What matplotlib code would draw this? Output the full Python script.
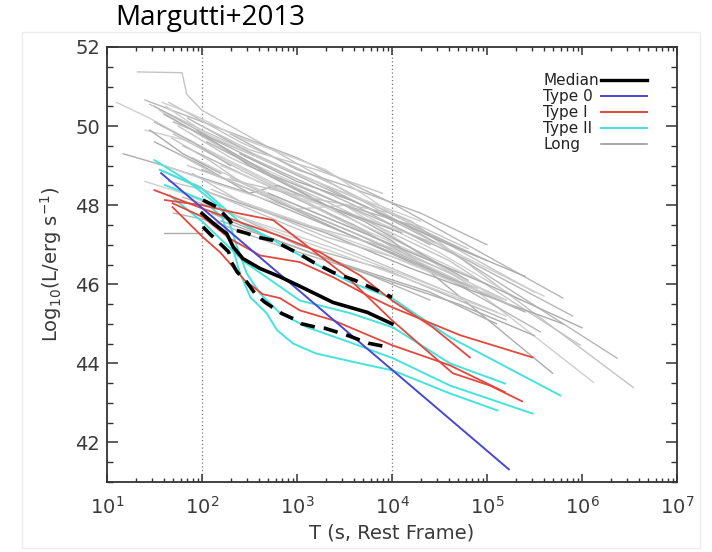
import matplotlib
matplotlib.use("Agg")
import matplotlib.pyplot as plt
from matplotlib.ticker import FixedLocator, MultipleLocator, NullFormatter, LogLocator
import numpy as np

# --- data: log10(T/s) and log10(L/erg s^-1) ---
median_logt = [2.0, 2.12, 2.26, 2.33, 2.43, 2.61, 2.82, 3.03, 3.38, 3.74, 4.0]
median_L = [47.79, 47.54, 47.28, 46.94, 46.65, 46.40, 46.19, 45.95, 45.54, 45.29, 45.0]

upper_logt = [2.01, 2.16, 2.21, 2.29, 2.35, 2.47, 2.59, 2.75, 2.95, 3.05, 3.17, 3.38, 3.61, 3.84, 4.0]
upper_L = [48.13, 47.95, 47.82, 47.62, 47.37, 47.29, 47.19, 47.11, 46.86, 46.73, 46.56, 46.30, 46.10, 45.85, 45.67]

lower_logt = [2.01, 2.08, 2.19, 2.28, 2.31, 2.37, 2.47, 2.56, 2.66, 2.84, 2.96, 3.05, 3.19, 3.29, 3.53, 3.75, 3.96]
lower_L = [47.45, 47.28, 47.03, 46.82, 46.56, 46.31, 46.06, 45.76, 45.55, 45.26, 45.13, 45.00, 44.92, 44.89, 44.71, 44.51, 44.41]

type0_logt = [1.57, 5.23]
type0_L = [48.81, 41.32]

typeI_logt = [
    [1.50, 2.0, 2.40, 2.82, 3.24, 3.66, 4.0, 4.43, 4.82],
    [1.61, 2.0, 2.33, 2.75, 3.03, 3.53, 4.0, 4.64, 5.03, 5.37],
    [1.69, 2.01, 2.19, 2.45, 2.64, 2.82, 3.03, 3.38, 4.0, 4.61, 5.19],
    [1.69, 2.01, 2.29, 2.61, 3.03, 3.38, 3.74, 4.0, 4.72, 5.48],
]
typeI_L = [
    [48.38, 47.92, 47.57, 47.22, 46.81, 46.23, 45.59, 44.91, 44.15],
    [48.13, 48.0, 47.82, 47.62, 47.11, 46.18, 45.09, 43.75, 43.44, 43.04],
    [47.95, 47.19, 46.81, 46.10, 45.75, 45.65, 45.34, 45.09, 44.46, 43.95, 43.27],
    [48.05, 47.70, 47.16, 46.73, 46.56, 46.18, 45.72, 45.42, 44.71, 44.15],
]

typeII_logt = [
    [1.50, 1.84, 2.19, 2.29, 2.37, 2.47, 2.61, 2.82, 3.11, 3.56, 4.01, 4.61, 5.48],
    [1.61, 2.01, 2.21, 2.33, 2.40, 2.51, 2.68, 2.79, 2.96, 3.20, 3.66, 4.01, 4.61, 5.11],
    [1.56, 1.98, 2.40, 2.72, 3.03, 3.56, 4.0, 4.61, 5.77],
    [1.66, 2.01, 2.45, 3.03, 3.56, 4.01, 4.61, 5.19],
]
typeII_L = [
    [49.14, 48.63, 47.95, 47.54, 46.94, 46.28, 45.77, 45.27, 44.91, 44.53, 44.13, 43.44, 42.73],
    [48.51, 48.13, 47.70, 46.86, 46.28, 45.67, 45.27, 44.84, 44.50, 44.25, 44.0, 43.82, 43.24, 42.81],
    [48.89, 48.46, 47.57, 47.16, 46.73, 46.05, 45.65, 44.66, 43.19],
    [48.25, 47.57, 46.56, 45.59, 45.27, 44.91, 44.0, 43.49],
]

long_logt = [
    [1.32, 1.79, 1.84, 2.0, 2.6, 4.5], [1.4, 3.0, 4.0, 5.8], [1.10, 1.45, 2.2, 3.5, 4.7],
    [1.17, 1.6, 2.5, 4.0, 5.4], [1.45, 2.0, 3.0, 4.2, 6.54], [1.5, 2.1, 3.2, 4.5, 6.37],
    [1.55, 2.3, 3.5, 4.8, 6.12], [1.6, 2.2, 3.0, 4.0, 5.69], [1.65, 2.4, 3.4, 4.3, 5.5],
    [1.7, 2.0, 2.6, 3.6, 4.4], [1.4, 1.9, 2.8, 3.7, 5.0], [1.5, 2.0, 2.5, 2.8, 3.7, 4.8],
    [1.75, 2.3, 3.3, 4.6, 5.98], [1.8, 2.5, 3.6, 5.56], [1.6, 2.2, 3.0, 3.5, 4.5, 5.35],
    [1.55, 2.1, 3.3, 4.2, 5.8], [1.7, 2.4, 3.8, 5.2], [1.85, 2.6, 3.5, 4.9],
    [1.9, 2.5, 3.2, 4.4, 5.3], [2.0, 2.6, 3.6, 4.8], [1.65, 2.0, 2.8, 3.8, 5.1],
    [2.05, 2.7, 3.5, 4.2, 5.0], [1.4, 1.8, 2.4, 3.4, 4.6], [1.6, 2.0],
    [2.1, 2.6, 3.3, 4.0, 4.9], [1.8, 2.3, 3.0, 3.9, 5.2], [2.2, 3.0, 3.8, 4.5, 5.6],
    [1.95, 2.5, 3.3, 4.1], [2.3, 2.9, 3.8, 4.6], [1.7, 2.1, 2.9, 3.7, 4.4],
    [2.0, 2.7, 3.4, 4.2, 5.2], [2.4, 3.0, 3.6, 4.5, 5.4], [1.85, 2.2, 3.1, 4.0, 4.8],
    [1.5, 1.9, 2.3], [2.5, 3.1, 3.9, 4.7], [2.1, 2.8, 3.5, 4.4, 5.1],
    [1.75, 2.2, 2.7], [2.6, 3.2, 3.9, 4.8, 5.9], [1.62, 2.05, 2.5, 3.3, 4.3],
    [2.2, 2.8, 3.7, 4.7, 5.5], [1.9, 2.4, 3.1, 4.0], [2.3, 3.0, 3.5, 4.3, 5.0],
    [1.58, 1.9, 2.4, 3.3, 4.0], [2.7, 3.4, 4.1, 5.0, 6.0], [2.0, 2.5, 3.2, 3.9],
    [3.0, 3.6, 4.4, 5.3], [2.4, 3.0, 3.9, 4.6, 5.2], [1.45, 1.8, 2.2], [1.68, 2.1, 2.4],
]
long_L = [
    [51.37, 51.35, 50.8, 50.4, 49.6, 47.0], [50.66, 49.2, 48.05, 45.65], [50.6, 50.2, 49.2, 47.6, 46.3],
    [49.3, 49.0, 48.3, 46.8, 45.3], [50.55, 49.9, 48.8, 47.6, 43.39], [50.5, 49.7, 48.6, 47.0, 44.13],
    [50.4, 49.3, 48.0, 46.0, 43.52], [50.3, 49.5, 48.4, 47.1, 43.75], [50.6, 49.6, 48.5, 47.4, 45.8],
    [50.1, 49.8, 49.1, 48.0, 47.0], [49.9, 49.6, 48.5, 47.5, 46.0], [49.6, 49.0, 48.3, 48.5, 47.6, 46.1],
    [50.0, 49.2, 48.1, 46.6, 44.46], [49.5, 48.7, 47.5, 44.8], [49.0, 48.5, 47.9, 48.0, 46.8, 45.6],
    [48.9, 48.3, 47.3, 46.4, 45.0], [49.8, 48.9, 47.2, 45.6], [50.2, 49.2, 48.2, 46.7],
    [49.2, 48.5, 47.8, 46.6, 45.4], [48.9, 48.3, 47.2, 45.9], [48.6, 48.4, 47.6, 46.6, 45.3],
    [49.6, 48.8, 48.0, 47.5, 46.6], [48.6, 48.3, 47.7, 46.9, 45.8], [47.3, 47.3],
    [48.4, 47.9, 47.2, 46.7, 45.9], [48.2, 47.8, 47.0, 46.4, 45.1], [49.0, 48.2, 47.6, 47.0, 45.7],
    [49.9, 49.0, 48.0, 47.3], [48.7, 48.0, 47.1, 46.3], [47.8, 47.6, 46.9, 46.3, 45.6],
    [48.1, 47.4, 46.8, 46.1, 45.2], [49.3, 48.6, 48.1, 47.1, 46.2], [49.0, 48.7, 48.2, 47.8, 46.9],
    [50.1, 49.6, 49.0], [48.5, 47.8, 47.0, 46.1], [47.8, 47.1, 46.5, 45.8, 45.0],
    [49.3, 48.7, 48.2], [48.9, 48.3, 47.6, 46.6, 45.2], [50.5, 49.8, 49.3, 48.5, 47.6],
    [47.6, 47.1, 46.3, 45.5, 44.7], [48.8, 48.1, 47.5, 46.9], [49.8, 48.9, 48.5, 47.8, 47.0],
    [50.6, 50.3, 49.7, 48.9, 47.8], [48.3, 47.6, 46.9, 46.0, 44.9], [50.0, 49.4, 48.9, 48.3],
    [47.9, 47.3, 46.4, 45.4], [48.1, 47.6, 46.8, 46.1, 45.6], [49.9, 49.3, 48.8], [49.7, 49.1, 48.6],
]

x_ticks = [1e1, 1e2, 1e3, 1e4, 1e5, 1e6, 1e7]
x_ticklabels = [r"$10^{%d}$" % k for k in range(1, 8)]
y_ticks = [42, 44, 46, 48, 50, 52]
legend_labels = ["Median", "Type 0", "Type I", "Type II", "Long"]

# --- colours ---
c_blue = "#4848d0"
c_red = "#e2483e"
c_cyan = "#45e3dc"
greys = ["#c4c4c4", "#b6b6b6", "#cfcfcf", "#acacac"]
frame = "#333333"
txt = "#3a3a3a"

fig = plt.figure(figsize=(7.12, 5.52), dpi=100)
ax = fig.add_axes([107 / 712, 1 - 482 / 552, 570 / 712, 435 / 552])

# faint border of the pasted figure
fig.add_artist(plt.Rectangle((22 / 712, 4 / 552), 678 / 712, 516 / 552,
                             transform=fig.transFigure, fill=False,
                             edgecolor="#ececec", lw=1.0))

for i, (lt, ll) in enumerate(zip(long_logt, long_L)):
    ax.plot(10 ** np.array(lt), ll, color=greys[i % len(greys)], lw=1.0, zorder=2)

for lt, ll in zip(typeII_logt, typeII_L):
    ax.plot(10 ** np.array(lt), ll, color=c_cyan, lw=1.4, zorder=3)

for lt, ll in zip(typeI_logt, typeI_L):
    ax.plot(10 ** np.array(lt), ll, color=c_red, lw=1.3, zorder=4)

ax.plot(10 ** np.array(type0_logt), type0_L, color=c_blue, lw=1.4, zorder=5)

ax.plot(10 ** np.array(median_logt), median_L, color="black", lw=2.6, zorder=6)
ax.plot(10 ** np.array(upper_logt), upper_L, color="black", lw=2.6, ls=(0, (4, 2.5)), zorder=6)
ax.plot(10 ** np.array(lower_logt), lower_L, color="black", lw=2.6, ls=(0, (4, 2.5)), zorder=6)

for xv in (1e2, 1e4):
    ax.axvline(xv, color="#777777", lw=0.9, ls=(0, (1, 2)), zorder=1)

ax.set_xscale("log")
ax.set_xlim(1e1, 1e7)
ax.set_ylim(41, 52)

ax.xaxis.set_major_locator(FixedLocator(x_ticks))
ax.set_xticklabels(x_ticklabels)
ax.xaxis.set_minor_locator(LogLocator(base=10, subs=np.arange(2, 10)))
ax.xaxis.set_minor_formatter(NullFormatter())
ax.yaxis.set_major_locator(FixedLocator(y_ticks))
ax.yaxis.set_minor_locator(MultipleLocator(0.5))

for s in ax.spines.values():
    s.set_color(frame)
    s.set_linewidth(1.3)

ax.tick_params(axis="both", which="both", direction="in", top=True, right=True,
               color=frame, labelcolor=txt, labelsize=14)
ax.tick_params(axis="x", which="major", length=6, width=1.1, pad=10)
ax.tick_params(axis="x", which="minor", length=3, width=1.0)
ax.tick_params(axis="y", which="major", length=8, width=1.1, pad=5)
ax.tick_params(axis="y", which="minor", length=4, width=1.0)

ax.set_xlabel("T (s, Rest Frame)", fontsize=14, color=txt, labelpad=4)
ax.set_ylabel(r"Log$_{10}$(L/erg s$^{-1}$)", fontsize=14, color=txt, labelpad=8)

# legend drawn IDL style: text left, line right
leg_colors = ["black", c_blue, c_red, c_cyan, "#999999"]
leg_widths = [2.4, 1.4, 1.4, 1.4, 1.2]
for k, (lab, col, w) in enumerate(zip(legend_labels, leg_colors, leg_widths)):
    yy = 0.924 - k * 0.0368
    ax.text(0.765, yy, lab, transform=ax.transAxes, fontsize=11, color="#222222",
            va="center", ha="left")
    ax.plot([0.867, 0.947], [yy, yy], transform=ax.transAxes, color=col, lw=w, zorder=7)

fig.text(210 / 712, 1 - 18 / 552, "Margutti+2013", fontsize=20, family="Open Sans",
         ha="center", va="center", color="black")

fig.savefig("out.png", dpi=100)
